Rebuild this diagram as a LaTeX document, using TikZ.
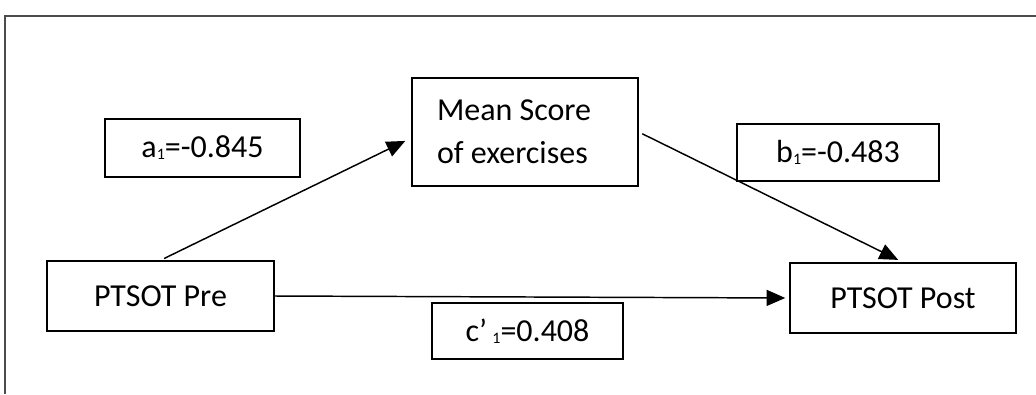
\documentclass[tikz,border=0pt]{standalone}
\usepackage{fontspec}
\setmainfont{Carlito}
\usepackage{tikz}
\usetikzlibrary{arrows.meta, positioning}

\newcommand{\idx}[1]{\raisebox{-1.5pt}{\fontsize{12}{12}\selectfont #1}}

\begin{document}
\begin{tikzpicture}[x=0.75pt, y=-0.75pt,
    box/.style={rectangle, draw, line width=1.1pt, inner sep=0pt, font=\fontsize{24}{32}\selectfont},
    path/.style={-{Triangle[length=14pt, width=12pt]}, line width=1.1pt}]
    \useasboundingbox (0,0) rectangle (1036,394);
    % Frame
    \draw[line width=1.5pt, black!70] (5,394) -- (5,16) -- (1036,16);

    % Variables
    \node[box, minimum width=170pt, minimum height=52.5pt] (pre) at (160.5,296) {PTSOT Pre};
    \node[box, minimum width=169.5pt, minimum height=81pt, text width=132pt, align=flush left] (mean) at (525,132) {Mean Score\\of exercises};
    \node[box, minimum width=169.5pt, minimum height=52.5pt] (post) at (903,298) {PTSOT Post};

    % Path coefficients
    \node[box, minimum width=146pt, minimum height=43.5pt] (a1) at (202.5,148) {a\idx{1}=-0.845};
    \node[box, minimum width=151.5pt, minimum height=43pt] (b1) at (838,152.5) {b\idx{1}=-0.483};
    \node[box, minimum width=143pt, minimum height=42pt] (c1) at (527.5,331) {c’\,\idx{1}=0.408};

    % Paths
    \draw[path, shorten <=3pt, shorten >=5pt] (pre.north) -- ([yshift=-4.5pt]mean.west);
    \draw[path, shorten <=3pt, shorten >=4pt] (mean.east) -- (post.north);
    \draw[path, shorten >=3pt] (pre.east) -- (post.west);
\end{tikzpicture}
\end{document}
